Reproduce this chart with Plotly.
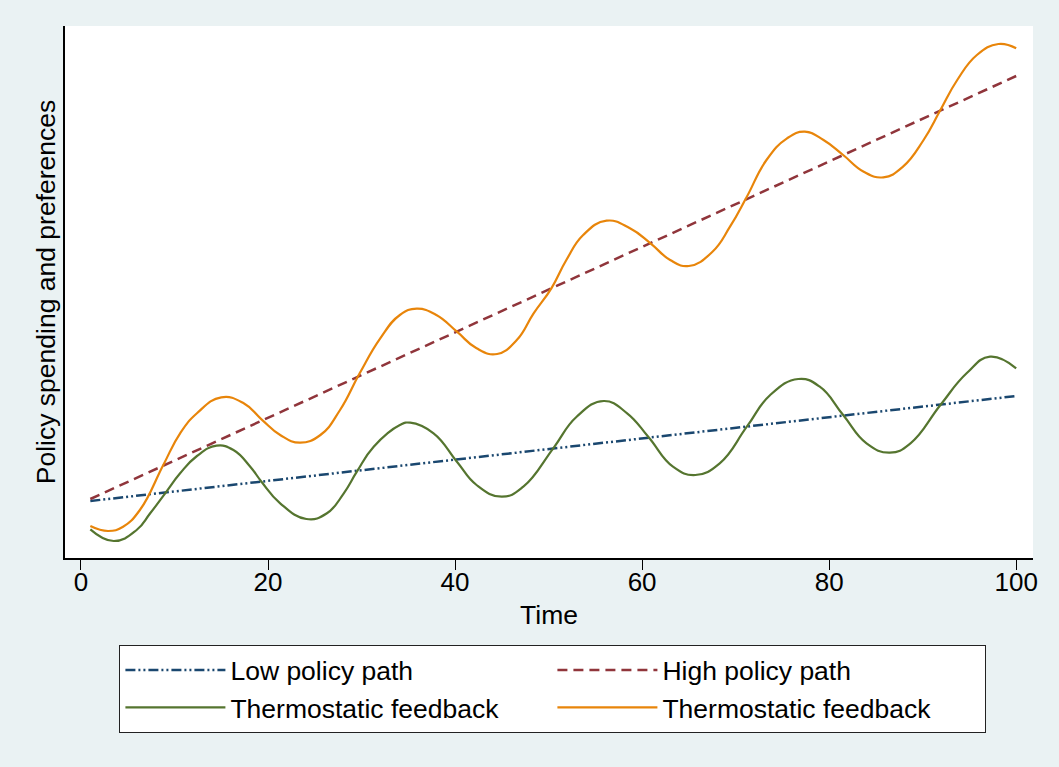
import plotly.graph_objects as go

# ---- data (y in arbitrary units) ----
low_x = [1, 100]
low_y = [5.7, 16.2]

high_x = [1, 100]
high_y = [5.9, 48.2]

green_x = [1, 3.5, 5.95, 7.4, 9.0, 10.6, 12.4, 14.5, 16.3, 18.1, 19.3, 21.3, 24.1,
           26.3, 28.1, 29.5, 31.3, 34.1, 35.2, 37.7, 40.2, 42.3, 45.0, 47.3, 50.5,
           53.0, 55.9, 58.4, 60.7, 63.3, 65.7, 68.3, 71.2, 73.7, 76.7, 79.0, 81.5,
           84.0, 86.5, 88.7, 91.9, 94.7, 97.2, 100]
green_y = [2.87, 1.7, 2.8, 4.47, 6.47, 8.47, 10.2, 11.23, 10.8, 9.13, 7.63, 5.47, 3.9,
           4.47, 6.47, 8.63, 11.13, 13.3, 13.53, 12.47, 9.63, 7.3, 6.13, 7.13, 10.97,
           14.13, 15.7, 14.47, 12.07, 9.13, 8.3, 9.47, 13.13, 16.3, 17.9, 17.13, 14.3,
           11.47, 10.53, 11.47, 15.3, 18.47, 20.13, 18.97]

orange_x = [1, 2.9, 4.5, 6.3, 8.8, 10.6, 12.4, 15.0, 17.4, 19.3, 21.3, 23.4, 25.6,
            27.7, 29.8, 32.0, 34.1, 35.9, 38.0, 40.2, 42.3, 44.5, 46.6, 48.4, 50.3,
            51.9, 53.7, 56.2, 58.7, 60.9, 63.0, 65.0, 67.5, 69.4, 71.2, 73.3, 75.5,
            77.4, 79.4, 81.5, 83.7, 85.8, 87.9, 90.1, 91.9, 93.7, 95.8, 98.1, 100]
orange_y = [3.2, 2.7, 3.13, 4.8, 9.3, 12.47, 14.47, 16.07, 15.47, 13.87, 12.3, 11.53, 12.3,
            14.8, 18.47, 21.97, 24.3, 24.93, 24.3, 22.63, 20.97, 20.4, 21.8, 24.47, 26.97,
            29.8, 32.3, 33.73, 32.97, 31.47, 29.8, 29.2, 30.6, 33.13, 36.13, 39.8, 41.97,
            42.63, 41.8, 40.3, 38.63, 38.07, 39.13, 41.8, 44.8, 47.8, 50.3, 51.4, 50.97]

x_ticks = [0, 20, 40, 60, 80, 100]

FONT = "Liberation Sans, Arial, Helvetica, sans-serif"

fig = go.Figure()
fig.add_trace(go.Scatter(x=low_x, y=low_y, mode="lines", name="Low policy path",
                         line=dict(color="#1A476F", width=2.5, dash="10px,3px,2px,3px,2px,3px")))
fig.add_trace(go.Scatter(x=high_x, y=high_y, mode="lines", name="High policy path",
                         line=dict(color="#90353B", width=2.5, dash="10px,6px")))
fig.add_trace(go.Scatter(x=green_x, y=green_y, mode="lines", name="Thermostatic feedback",
                         line=dict(color="#55752F", width=2.2, shape="spline", smoothing=1.3)))
fig.add_trace(go.Scatter(x=orange_x, y=orange_y, mode="lines", name="Thermostatic feedback",
                         line=dict(color="#E8850A", width=2.2, shape="spline", smoothing=1.3)))

fig.update_layout(
    width=1059, height=767,
    margin=dict(l=65, r=26, t=26, b=209),
    paper_bgcolor="#EAF2F3",
    plot_bgcolor="white",
    font=dict(family=FONT, size=26, color="black"),
    showlegend=True,
    legend=dict(
        orientation="h",
        x=0.056, xanchor="left",
        y=-0.1635, yanchor="top",
        bgcolor="white",
        bordercolor="#222222", borderwidth=1.2,
        itemwidth=100,
        entrywidth=317,
        font=dict(family=FONT, size=26.5),
        traceorder="normal",
    ),
    xaxis=dict(
        range=[-1.71, 101.8],
        tickvals=x_ticks,
        ticks="outside", ticklen=10, tickwidth=1.3, tickcolor="black",
        ticklabelstandoff=-10,
        showline=True, linecolor="black", linewidth=1.5,
        showgrid=False, zeroline=False,
        title=dict(text="Time", font=dict(size=26.5), standoff=9),
        tickfont=dict(size=26),
    ),
    yaxis=dict(
        range=[0, 53.2],
        showticklabels=False, ticks="",
        showline=True, linecolor="black", linewidth=1.5,
        showgrid=False, zeroline=False,
        title=dict(text="Policy spending and preferences", font=dict(size=26.5), standoff=0),
    ),
)

fig.write_html("out.html", config={"displayModeBar": False},
               post_script="document.body.style.margin='0';")
